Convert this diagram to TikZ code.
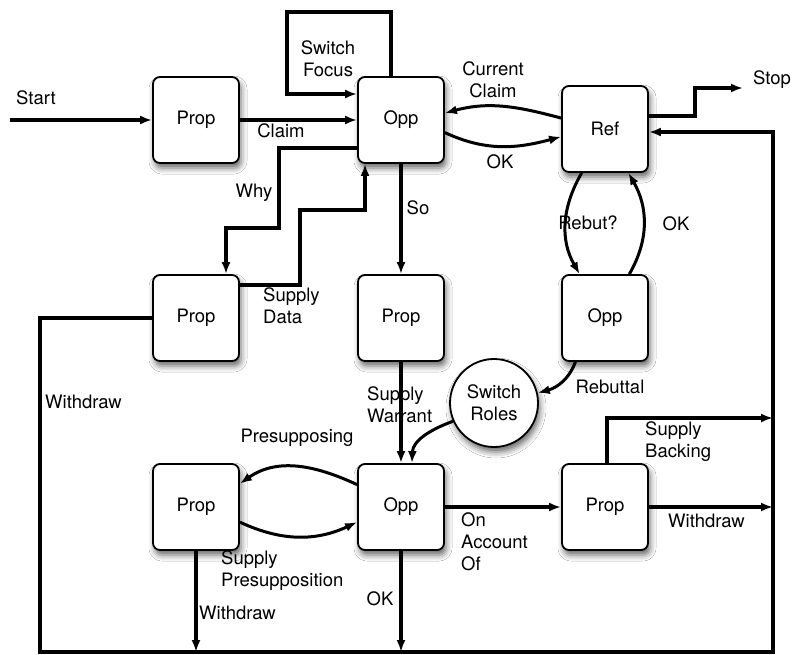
\documentclass[tikz,border=0pt]{standalone}
\usepackage{fontspec}
\setmainfont{TeX Gyre Heros}
\usetikzlibrary{arrows.meta,shadows.blur,calc}
\begin{document}
\begin{tikzpicture}[x=1pt,y=-1pt,
  font=\fontsize{18.5}{22}\selectfont,
  box/.style={draw, line width=1.8pt, rounded corners=7pt, minimum width=86pt, minimum height=86pt, inner sep=0pt, fill=white,
    blur shadow={shadow xshift=2pt, shadow yshift=-5pt, shadow blur radius=6pt, shadow opacity=60}},
  rolecircle/.style={draw, circle, line width=1.8pt, minimum size=88pt, inner sep=0pt, fill=white, align=center,
    blur shadow={shadow xshift=2pt, shadow yshift=-5pt, shadow blur radius=6pt, shadow opacity=60}},
  conn/.style={line width=3.3pt, -{Latex[length=12pt,width=9pt]}},
  cconn/.style={line width=3pt, -{Latex[length=12pt,width=9pt]}},
  lbl/.style={inner sep=0pt, align=center},
  lbll/.style={inner sep=0pt, align=left, anchor=west}
]
\fill[white] (0,0) rectangle (795,654);
\useasboundingbox (0,0) rectangle (795,654);

\node[box] (p1) at (196,120) {Prop};
\node[box] (o1) at (401,120) {Opp};
\node[box] (ref) at (605,129) {Ref};
\node[box] (p2) at (196,318) {Prop};
\node[box] (p3) at (401,318) {Prop};
\node[box] (o2) at (605,318) {Opp};
\node[rolecircle] (sr) at (494,403) {Switch\\Roles};
\node[box] (p4) at (196,507) {Prop};
\node[box] (o3) at (401,507) {Opp};
\node[box] (p5) at (605,507) {Prop};

\coordinate (start) at (10,120);
\coordinate (sf1) at (391,12);
\coordinate (sf2) at (287,12);
\coordinate (sf3) at (287,94);
\coordinate (w1) at (279,148);
\coordinate (w2) at (226,228);
\coordinate (d1) at (300,285);
\coordinate (d2) at (365,210);
\coordinate (s1) at (695,116);
\coordinate (s2) at (695,88);
\coordinate (stop) at (743,88);
\coordinate (l1) at (40,318);
\coordinate (l2) at (40,652);
\coordinate (l3) at (773,652);
\coordinate (l4) at (773,132);
\coordinate (k1) at (607,418);
\coordinate (k2) at (773,418);

\draw[conn] (start) -- (p1);
\draw[conn] (p1) -- (o1);
\draw[conn] (o1.north -| sf1) -- (sf1) -- (sf2) -- (sf3) -- (sf3 -| o1.west);
\draw[conn] (o1.west |- w1) -- (w1) |- (w2) -- (w2 |- p2.north);
\draw[conn] (p2.east |- d1) -- (d1) |- (d2) -- (d2 |- o1.south);
\draw[conn] (o1) -- (p3);
\draw[cconn] (ref.166) to[out=165,in=15] (o1.9);
\draw[cconn] (o1.-16) to[out=-25,in=195] (ref.190);
\draw[conn] (ref.east |- s1) -- (s1) -- (s2) -- (stop);
\draw[cconn] (ref.242) to[out=240,in=120] (o2.120);
\draw[cconn] (o2.61) to[out=60,in=-60] (ref.298);
\draw[conn] (p2.west) -- (l1) -- (l2) -- (l3) -- (l4) -- (l4 -| ref.east);
\draw[conn] (p3) -- (o3);
\draw[cconn] (o2.236) to[out=250,in=15] (sr.13);
\draw[cconn] (sr.204) to[out=200,in=88] (o3.76);
\draw[cconn] (o3.153) to[out=155,in=35] (p4.28);
\draw[cconn] (p4.-19) to[out=-25,in=205] (o3.199);
\draw[conn] (p4.south) -- (p4.south |- l2);
\draw[conn] (o3.south) -- (o3.south |- l2);
\draw[conn] (o3) -- (p5);
\draw[conn] (k1 |- p5.north) -- (k1) -- (k2);
\draw[conn] (p5.east) -- (p5.east -| l3);

\node[lbl] (tStart) at (36,98) {Start};
\node[lbl] (tClaim) at (281,131) {Claim};
\node[lbl] (tSF) at (328,59) {Switch\\Focus};
\node[lbl] (tWhy) at (254,193) {Why};
\node[lbll] (tSD) at (263,306) {Supply\\Data};
\node[lbl] (tSo) at (418,208) {So};
\node[lbl] (tCC) at (493,80) {Current\\Claim};
\node[lbl] (tOK1) at (500,162) {OK};
\node[lbl] (tStop) at (772,80) {Stop};
\node[lbl] (tReb) at (588,223) {Rebut?};
\node[lbl] (tOK2) at (676,224) {OK};
\node[lbll] (tWd1) at (45,402) {Withdraw};
\node[lbll] (tSW) at (367,405) {Supply\\Warrant};
\node[lbl] (tRebuttal) at (610,387) {Rebuttal};
\node[lbl] (tPres) at (297,438) {Presupposing};
\node[lbll] (tSP) at (221,571) {Supply\\Presupposition};
\node[lbll] (tWd2) at (199,613) {Withdraw};
\node[lbl] (tOK3) at (380,599) {OK};
\node[lbll] (tOAO) at (461,542) {On\\Account\\Of};
\node[lbll] (tSB) at (645,442) {Supply\\Backing};
\node[lbll] (tWd3) at (668,521) {Withdraw};
\end{tikzpicture}
\end{document}
